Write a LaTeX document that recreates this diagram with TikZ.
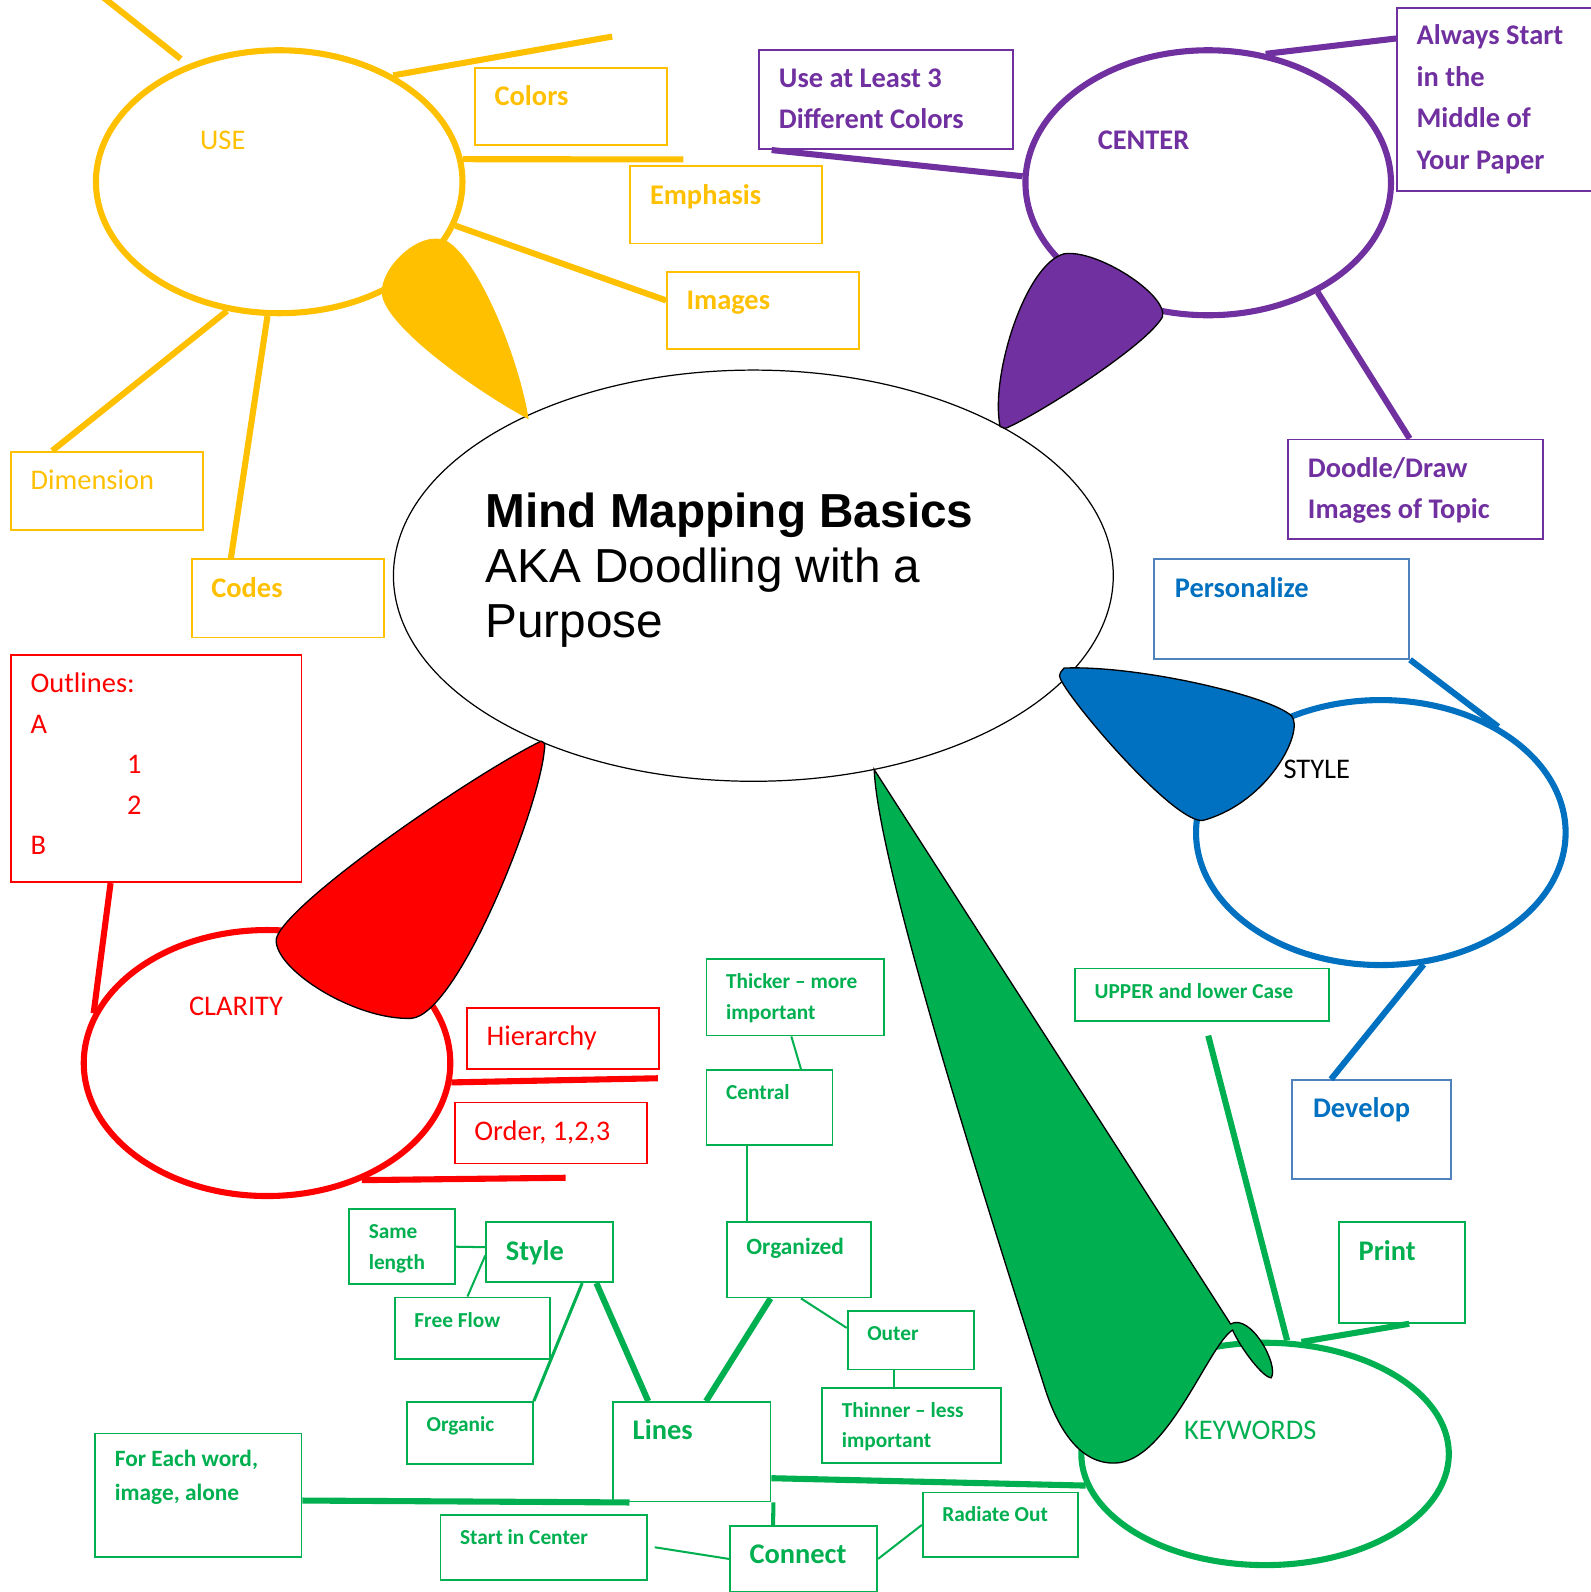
\documentclass[tikz,border=0pt]{standalone}
\usepackage{fontspec}
\setmainfont{Carlito}
\newfontfamily\arialfont{Liberation Sans}
\usetikzlibrary{shapes.geometric}
\definecolor{ylw}{HTML}{FFC000}
\definecolor{prp}{HTML}{7030A0}
\definecolor{blu}{HTML}{0070C0}
\definecolor{bluln}{HTML}{4F81BD}
\definecolor{rd}{HTML}{FF0000}
\definecolor{grn}{HTML}{00B050}
\tikzset{
 bubble/.style={ellipse,draw=#1,line width=6pt,inner sep=0pt},
 box/.style={draw=#1,line width=1.8pt,inner sep=0pt,anchor=north west},
 txt/.style={text=#1,anchor=base west,inner sep=0pt,align=left},
 fbig/.style={font=\fontsize{28}{34}\selectfont},
 bigb/.style={font=\fontsize{28}{41}\selectfont\bfseries,yshift=-38pt},
 bigr/.style={font=\fontsize{28}{40}\selectfont,yshift=-38pt},
 midb/.style={font=\fontsize{23}{34}\selectfont\bfseries,yshift=-33pt},
 smlb/.style={font=\fontsize{21}{30}\selectfont\bfseries,yshift=-30pt},
 branch/.style={draw=#1,line width=6pt},
 twig/.style={draw=#1,line width=2pt},
 blob/.style={fill=#1,draw=black,line width=1.3pt}
}
% box with its text: name, colour, x, y, width, height, font, text
% (the base of a text of several lines is its last line)
\newcommand\mmbox[8]{\node[box=#2,minimum width=#5pt,minimum height=#6pt] (#1) at (#3,#4) {};
\node[txt=#2,#7] (#1t) at ([xshift=20pt]#1.north west) {#8};}
\begin{document}
\begin{tikzpicture}[x=1pt,y=-1pt]
\useasboundingbox[fill=white] (0,0) rectangle (1567,1568);
% centre
\node[ellipse,draw,line width=1.2pt,fill=white,inner sep=0pt,minimum width=709pt,minimum height=405pt] (basics) at (742,567) {};
\node[anchor=base west,inner sep=0pt,align=left,font=\arialfont\fontsize{47}{54}\selectfont] (basicst) at (478,628) {\textbf{Mind Mapping Basics}\\AKA Doodling with a\\Purpose};
% the five bubbles
\node[bubble=ylw,minimum width=361pt,minimum height=259pt] (use) at (275,179) {};
\node[bubble=prp,minimum width=360pt,minimum height=261pt] (centre) at (1190,180) {};
\node[bubble=blu,minimum width=364pt,minimum height=261pt] (stylee) at (1360,820) {};
\node[bubble=rd,minimum width=361pt,minimum height=262pt] (clarity) at (263,1047) {};
\node[bubble=grn,minimum width=362pt,minimum height=219pt] (keywords) at (1246,1432) {};
\node[txt=ylw,fbig] (usel) at (197,147) {USE};
\node[txt=prp,font=\fontsize{28}{34}\selectfont\bfseries] (centrel) at (1081,147) {CENTER};
\node[txt=black,fbig] (stylel) at (1264,767) {STYLE};
\node[txt=rd,fbig] (clarityl) at (186,1000) {CLARITY};
\node[txt=grn,fbig] (keywordsl) at (1166,1418) {KEYWORDS};
% yellow
\mmbox{colors}{ylw}{467}{66}{189}{76}{bigb}{Colors}
\mmbox{emph}{ylw}{620}{163}{189}{76}{bigb}{Emphasis}
\mmbox{images}{ylw}{656}{267}{189}{76}{bigb}{Images}
\mmbox{dimen}{ylw}{10}{444}{189}{77}{bigr}{Dimension}
\mmbox{codes}{ylw}{188}{550}{189}{77}{bigb}{Codes}
% purple
\mmbox{least}{prp}{747}{48}{250}{98}{bigb,yshift=-41pt}{Use at Least 3\\Different Colors}
\mmbox{always}{prp}{1375}{7}{230}{180}{bigb,yshift=-122pt}{Always Start\\in the\\Middle of\\Your Paper}
\mmbox{doodle}{prp}{1268}{432}{251}{98}{bigb,yshift=-41pt}{Doodle/Draw\\Images of Topic}
% blue
\node[box=bluln,minimum width=251pt,minimum height=98pt] (person) at (1136,550) {};
\node[txt=blu,bigb] (persont) at ([xshift=21pt]person.north west) {Personalize};
\node[box=bluln,minimum width=156pt,minimum height=97pt] (develop) at (1272,1063) {};
\node[txt=blu,bigb] (developt) at ([xshift=21pt]develop.north west) {Develop};
% red
\mmbox{outline}{rd}{10}{644}{286}{224}{bigr,yshift=-160pt}{Outlines:\\A\\\hspace*{95pt}1\\\hspace*{95pt}2\\B}
\mmbox{hier}{rd}{459}{992}{189}{60}{bigr}{Hierarchy}
\mmbox{order}{rd}{447}{1085}{189}{60}{bigr}{Order, 1,2,3}
% green
\mmbox{thick}{grn}{695}{944}{175}{75}{smlb,yshift=-30pt}{Thicker – more\\important}
\mmbox{central}{grn}{695}{1053}{124}{74}{smlb}{Central}
\mmbox{upper}{grn}{1058}{953}{250}{52}{smlb}{UPPER and lower Case}
\mmbox{organized}{grn}{715}{1203}{142}{74}{midb}{Organized}
\mmbox{outer}{grn}{834}{1290}{124}{58}{smlb}{Outer}
\mmbox{thin}{grn}{809}{1366}{176}{74}{smlb,yshift=-30pt}{Thinner – less\\important}
\mmbox{same}{grn}{343}{1190}{104}{74}{smlb,yshift=-30pt}{Same\\length}
\mmbox{style}{grn}{478}{1203}{125}{59}{bigb}{Style}
\mmbox{free}{grn}{388}{1277}{153}{61}{smlb}{Free Flow}
\mmbox{organic}{grn}{400}{1380}{124}{61}{smlb}{Organic}
\mmbox{lines}{grn}{603}{1380}{155}{98}{bigb}{Lines}
\mmbox{each}{grn}{93}{1411}{203}{122}{midb,yshift=-34pt}{For Each word,\\image, alone}
\mmbox{start}{grn}{433}{1491}{203}{64}{smlb}{Start in Center}
\mmbox{connect}{grn}{718}{1502}{145}{65}{bigb}{Connect}
\mmbox{radiate}{grn}{908}{1469}{153}{64}{smlb}{Radiate Out}
\mmbox{print}{grn}{1318}{1203}{124}{99}{bigb}{Print}
% yellow lines
\coordinate (y0) at (100,-4);
\coordinate (y1) at (178,58);
\coordinate (y2) at (603,36);
\coordinate (y3) at (673,157);
\draw[branch=ylw] (y0) -- (y1);
\draw[branch=ylw] (use.43) -- (y2);
\draw[branch=ylw] (use.7) -- (y3);
\draw[branch=ylw] (use.-14) -- ([yshift=10pt]images.west);
\draw[branch=ylw] (use.248) -- ([xshift=-54pt]dimen.north);
\draw[branch=ylw] (use.265) -- ([xshift=-56pt]codes.north);
% purple lines
\draw[branch=prp] ([xshift=13pt]least.south west) -- (centre.178);
\draw[branch=prp] (centre.66) -- ([yshift=60pt]always.west);
\draw[branch=prp] (centre.-45) -- ([xshift=-6pt]doodle.north);
% blue lines
\draw[branch=blu] (person.south east) -- (stylee.42);
\draw[branch=blu] (stylee.-72) -- ([xshift=-40pt]develop.north);
% red lines
\coordinate (r1) at (648,1062);
\coordinate (r2) at (557,1160);
\draw[branch=rd] ([xshift=-45pt]outline.south) -- (clarity.164);
\draw[branch=rd] (clarity.-6) -- (r1);
\draw[branch=rd] (clarity.-51) -- (r2);
% green lines
\coordinate (g1) at (1190,1020);
\draw[branch=grn] (g1) -- (keywords.79);
\draw[branch=grn] (keywords.72) -- ([xshift=7pt]print.south);
\draw[branch=grn] ([yshift=-26pt]lines.east) -- (keywords.190);
\draw[branch=grn] ([yshift=-5pt]each.east) -- ([xshift=17pt]lines.south west);
\draw[branch=grn,line width=4pt] ([xshift=2pt]lines.south east) -- ([xshift=-30pt]connect.north);
\draw[twig=grn] ([xshift=7pt]start.east) -- (connect.west);
\draw[twig=grn] (connect.east) -- (radiate.west);
\draw[twig=grn] ([xshift=-4pt]thick.south) -- ([xshift=31pt]central.north);
\draw[twig=grn] ([xshift=-22pt]central.south) -- ([xshift=-51pt]organized.north);
\draw[twig=grn] (same.east) -- ([yshift=5pt]style.west);
\draw[twig=grn] ([yshift=-3pt]style.west) -- ([xshift=-5pt]free.north);
\draw[twig=grn,line width=3pt] ([xshift=32pt]style.south) -- (organic.north east);
\draw[branch=grn] ([xshift=46pt]style.south) -- ([xshift=-43pt]lines.north);
\draw[branch=grn] ([xshift=-28pt]organized.south) -- ([xshift=14pt]lines.north);
\draw[twig=grn] ([xshift=2pt]organized.south) -- ([yshift=12pt]outer.west);
\draw[twig=grn] ([xshift=-16pt]outer.south) -- ([xshift=-17pt]thin.north);
% blobs
\draw[fill=ylw,draw=ylw,line width=1pt] (520,412) .. controls (510,350) and (470,255) .. (440,238)
 .. controls (415,225) and (372,265) .. (377,292) .. controls (385,325) and (470,385) .. (520,412) -- cycle;
\draw[blob=prp] (985,420) .. controls (975,370) and (1010,260) .. (1048,250)
 .. controls (1080,245) and (1150,290) .. (1145,312) .. controls (1130,340) and (1020,410) .. (990,422) -- cycle;
\draw[blob=blu] (1048,658) .. controls (1120,655) and (1250,685) .. (1272,705)
 .. controls (1285,720) and (1250,790) .. (1185,808) .. controls (1160,812) and (1070,710) .. (1048,675)
 .. controls (1042,665) .. cycle;
\draw[blob=rd] (533,730) .. controls (470,760) and (280,890) .. (272,925)
 .. controls (270,955) and (350,1005) .. (405,1003) .. controls (450,1000) and (530,800) .. (536,740)
 .. controls (537,732) .. cycle;
\draw[blob=grn] (861,758) -- (1212,1304) .. controls (1232,1293) and (1260,1345) .. (1252,1357)
 .. controls (1244,1357) and (1222,1328) .. (1214,1310) .. controls (1190,1325) and (1150,1440) .. (1098,1441)
 .. controls (1060,1442) and (1040,1400) .. (1030,1370) .. controls (960,1150) and (865,850) .. cycle;
\end{tikzpicture}
\end{document}
